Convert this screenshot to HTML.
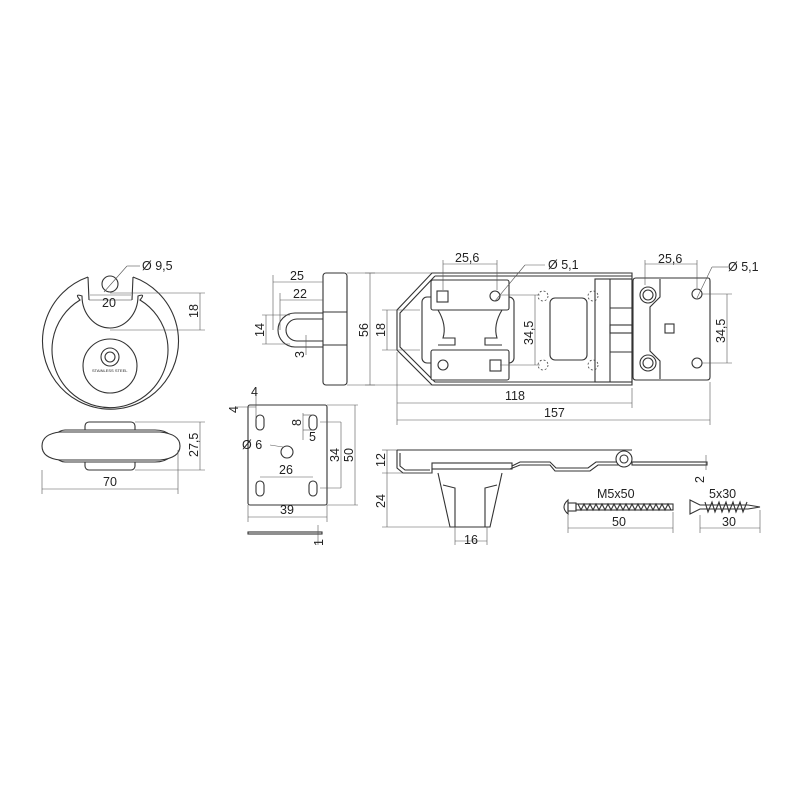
<!DOCTYPE html>
<html><head><meta charset="utf-8"><style>
html,body{margin:0;padding:0;background:#fff;}
svg{display:block}
text{font-family:"Liberation Sans",sans-serif;font-size:12.5px;fill:#222}
.o{fill:none;stroke:#333;stroke-width:1.1}
.w{fill:#fff;stroke:#333;stroke-width:1.1}
.d{fill:none;stroke:#555;stroke-width:0.6}
.ds{fill:none;stroke:#444;stroke-width:0.8;stroke-dasharray:2 2}
</style></head><body>
<svg width="800" height="800" viewBox="0 0 800 800" xmlns="http://www.w3.org/2000/svg">
<!-- Padlock front -->
<path class="o" d="M88,277 L89,300 M133,277 L132,300"/>
<path class="o" d="M88,277 A68,68 0 1 0 133,277"/>
<path class="o" d="M80,300 A58,58 0 1 0 140,300 Q146,293 138,296 A28,32 0 0 1 82,296 Q74,293 80,300 Z"/>
<line class="o" x1="89" y1="300" x2="132" y2="300" style="stroke-width:0.5"/>
<circle class="o" cx="110" cy="366" r="27"/>
<circle class="o" cx="110" cy="357" r="9"/>
<circle class="o" cx="110" cy="357" r="5"/>
<text x="92" y="372" style="font-size:4px">STAINLESS STEEL</text>
<circle class="o" cx="110" cy="284" r="8"/>
<line class="d" x1="104" y1="292" x2="127" y2="266"/><line class="d" x1="127" y1="266" x2="140" y2="266"/>
<text x="142" y="270">Ø 9,5</text>
<line class="d" x1="90" y1="295" x2="131" y2="295"/>
<text x="102" y="307">20</text>
<line class="d" x1="110" y1="293" x2="205" y2="293"/><line class="d" x1="110" y1="330" x2="205" y2="330"/>
<line class="d" x1="200" y1="293" x2="200" y2="330"/>
<text transform="translate(198,318) rotate(-90)">18</text>
<!-- Padlock side -->
<rect class="o" x="85" y="422" width="50" height="48" rx="4"/>
<path class="w" d="M65,430 H155 Q165,430 170,435 L178,446 L170,457 Q165,462 155,462 H65 Q60,462 55,457 L43,446 L55,435 Q60,430 65,430Z"/>
<path class="w" d="M60,432 H160 Q180,434 180,446 Q180,458 160,460 H60 Q42,458 42,446 Q42,434 60,432Z"/>
<line class="d" x1="42" y1="470" x2="42" y2="494"/><line class="d" x1="178" y1="450" x2="178" y2="494"/>
<line class="d" x1="42" y1="489" x2="178" y2="489"/>
<text x="103" y="486">70</text>
<line class="d" x1="135" y1="422" x2="205" y2="422"/><line class="d" x1="135" y1="470" x2="205" y2="470"/>
<line class="d" x1="200" y1="422" x2="200" y2="470"/>
<text transform="translate(198,457) rotate(-90)">27,5</text>
<!-- Staple -->
<rect class="o" x="323" y="273" width="24" height="112" rx="3"/>
<line class="o" x1="323" y1="312" x2="347" y2="312"/><line class="o" x1="323" y1="345" x2="347" y2="345"/>
<path class="o" d="M323,313 H295 A17,17 0 0 0 295,347 H323"/>
<path class="o" d="M323,319 H297 A11,11 0 0 0 297,341 H323"/>
<line class="d" x1="273" y1="275" x2="273" y2="330"/><line class="d" x1="273" y1="282" x2="323" y2="282"/>
<text x="290" y="280">25</text>
<line class="d" x1="280" y1="293" x2="280" y2="330"/><line class="d" x1="280" y1="300" x2="323" y2="300"/>
<text x="293" y="298">22</text>
<line class="d" x1="266" y1="315" x2="266" y2="344"/><line class="d" x1="262" y1="315" x2="290" y2="315"/><line class="d" x1="262" y1="344" x2="290" y2="344"/>
<text transform="translate(264,337) rotate(-90)">14</text>
<line class="d" x1="306" y1="335" x2="306" y2="355"/>
<text transform="translate(304,358) rotate(-90)">3</text>
<line class="d" x1="347" y1="273" x2="375" y2="273"/><line class="d" x1="347" y1="385" x2="375" y2="385"/>
<!-- Plate -->
<rect class="o" x="248" y="405" width="79" height="100" rx="2"/>
<rect class="o" x="256" y="415" width="8" height="15" rx="4"/><rect class="o" x="309" y="415" width="8" height="15" rx="4"/>
<rect class="o" x="256" y="481" width="8" height="15" rx="4"/><rect class="o" x="309" y="481" width="8" height="15" rx="4"/>
<circle class="o" cx="287" cy="452" r="6"/>
<line class="d" x1="256" y1="388" x2="256" y2="420"/><text x="251" y="396">4</text>
<line class="d" x1="236" y1="407" x2="256" y2="407"/><text transform="translate(238,413) rotate(-90)">4</text>
<line class="d" x1="303" y1="413" x2="303" y2="440"/><line class="d" x1="303" y1="415" x2="313" y2="415"/><line class="d" x1="303" y1="430" x2="313" y2="430"/>
<text transform="translate(301,426) rotate(-90)">8</text>
<text x="309" y="441">5</text>
<line class="d" x1="270" y1="445" x2="283" y2="447"/>
<text x="242" y="449">Ø 6</text>
<line class="d" x1="260" y1="477" x2="313" y2="477"/><text x="279" y="474">26</text>
<line class="d" x1="320" y1="422" x2="341" y2="422"/><line class="d" x1="320" y1="488" x2="341" y2="488"/>
<line class="d" x1="341" y1="422" x2="341" y2="488"/>
<text transform="translate(339,462) rotate(-90)">34</text>
<line class="d" x1="327" y1="405" x2="358" y2="405"/><line class="d" x1="327" y1="505" x2="358" y2="505"/>
<line class="d" x1="355" y1="405" x2="355" y2="505"/>
<text transform="translate(353,462) rotate(-90)">50</text>
<line class="d" x1="248" y1="505" x2="248" y2="522"/><line class="d" x1="327" y1="505" x2="327" y2="522"/>
<line class="d" x1="248" y1="517" x2="327" y2="517"/><text x="280" y="514">39</text>
<rect class="o" x="248" y="532" width="74" height="2"/>
<line class="d" x1="318" y1="525" x2="318" y2="545"/><text transform="translate(323,546) rotate(-90)">1</text>
<!-- Hasp top -->
<line class="d" x1="370" y1="273" x2="370" y2="385"/><line class="d" x1="365" y1="273" x2="432" y2="273"/><line class="d" x1="365" y1="385" x2="432" y2="385"/>
<text transform="translate(368,337) rotate(-90)">56</text>
<path class="o" d="M432,273 H632 V385 H432 L397,350 V310 Z"/>
<path class="o" d="M435,276 H632 M632,382 H435 L400,347 V313 L435,276"/>
<rect class="o" x="422" y="297" width="92" height="66" rx="5"/>
<rect class="w" x="431" y="280" width="78" height="30" rx="2"/>
<rect class="w" x="431" y="350" width="78" height="30" rx="2"/>
<path class="o" d="M438,310 Q447,325 443,338 H455 V345 H438 M502,310 Q493,325 497,338 H485 V345 H502"/>
<rect class="o" x="437" y="291" width="11" height="11"/>
<circle class="o" cx="495" cy="296" r="5"/>
<circle class="o" cx="443" cy="365" r="5"/>
<rect class="o" x="490" y="360" width="11" height="11"/>
<circle class="ds" cx="543" cy="296" r="5"/><circle class="ds" cx="543" cy="365" r="5"/>
<circle class="ds" cx="593" cy="296" r="5"/><circle class="ds" cx="593" cy="365" r="5"/>
<rect class="o" x="550" y="298" width="37" height="62" rx="5"/>
<rect class="o" x="595" y="279" width="37" height="103"/>
<line class="o" x1="610" y1="279" x2="610" y2="382"/>
<line class="o" x1="610" y1="308" x2="632" y2="308"/><line class="o" x1="610" y1="352" x2="632" y2="352"/>
<rect class="o" x="610" y="325" width="22" height="8"/>
<line class="d" x1="443" y1="260" x2="443" y2="290"/><line class="d" x1="497" y1="260" x2="497" y2="290"/>
<line class="d" x1="443" y1="264" x2="497" y2="264"/><text x="455" y="262">25,6</text>
<line class="d" x1="495" y1="301" x2="525" y2="265"/><line class="d" x1="525" y1="265" x2="545" y2="265"/>
<text x="548" y="269">Ø 5,1</text>
<line class="d" x1="500" y1="295" x2="540" y2="295"/><line class="d" x1="500" y1="365" x2="540" y2="365"/>
<line class="d" x1="535" y1="295" x2="535" y2="365"/>
<text transform="translate(533,345) rotate(-90)">34,5</text>
<line class="d" x1="382" y1="310" x2="420" y2="310"/><line class="d" x1="382" y1="350" x2="420" y2="350"/>
<line class="d" x1="387" y1="310" x2="387" y2="350"/>
<text transform="translate(385,337) rotate(-90)">18</text>
<!-- right plate -->
<path class="w" d="M636,278 H708 Q710,278 710,281 V377 Q710,380 707,380 H636 Q633,380 633,377 V281 Q633,278 636,278Z"/>
<path class="o" d="M660,279 V297 L650,307 V351 L660,361 V379"/>
<circle class="o" cx="648" cy="295" r="8"/><circle class="o" cx="648" cy="295" r="5"/>
<circle class="o" cx="648" cy="363" r="8"/><circle class="o" cx="648" cy="363" r="5"/>
<rect class="o" x="665" y="324" width="9" height="9"/>
<circle class="o" cx="697" cy="294" r="5"/><circle class="o" cx="697" cy="363" r="5"/>
<line class="d" x1="645" y1="260" x2="645" y2="285"/><line class="d" x1="697" y1="260" x2="697" y2="288"/>
<line class="d" x1="645" y1="264" x2="697" y2="264"/><text x="658" y="263">25,6</text>
<line class="d" x1="697" y1="298" x2="712" y2="267"/><line class="d" x1="712" y1="267" x2="728" y2="267"/>
<text x="728" y="271">Ø 5,1</text>
<line class="d" x1="702" y1="294" x2="732" y2="294"/><line class="d" x1="702" y1="363" x2="732" y2="363"/>
<line class="d" x1="727" y1="294" x2="727" y2="363"/>
<text transform="translate(725,343) rotate(-90)">34,5</text>
<line class="d" x1="397" y1="352" x2="397" y2="425"/><line class="d" x1="632" y1="388" x2="632" y2="408"/><line class="d" x1="710" y1="382" x2="710" y2="425"/>
<line class="d" x1="397" y1="403" x2="632" y2="403"/><text x="505" y="400">118</text>
<line class="d" x1="397" y1="420" x2="710" y2="420"/><text x="544" y="417">157</text>
<!-- Hasp side -->
<path class="o" d="M397,450 H632 M397,450 V468 L403,473 H432 V469 H510 L520,465 H550 L555,471 H590 L598,465 H620 L628,462 H705"/>
<path class="o" d="M400,453 V466 L405,470 H430 M512,466 L520,462 H550 L556,468 H588 L596,462 H625"/>
<rect class="o" x="432" y="463" width="80" height="6"/>
<circle class="w" cx="624" cy="459" r="8"/><circle class="o" cx="624" cy="459" r="4"/>
<rect class="o" x="632" y="462" width="75" height="3"/>
<path class="o" d="M438,473 L450,527 H490 L502,473"/>
<path class="o" d="M443,485 L455,488 V527 M497,485 L485,488 V527"/>
<line class="d" x1="382" y1="450" x2="397" y2="450"/><line class="d" x1="382" y1="473" x2="432" y2="473"/><line class="d" x1="382" y1="527" x2="450" y2="527"/>
<line class="d" x1="387" y1="450" x2="387" y2="527"/>
<text transform="translate(385,467) rotate(-90)">12</text>
<text transform="translate(385,508) rotate(-90)">24</text>
<line class="d" x1="455" y1="527" x2="455" y2="545"/><line class="d" x1="487" y1="527" x2="487" y2="545"/>
<line class="d" x1="455" y1="541" x2="487" y2="541"/><text x="464" y="544">16</text>
<line class="d" x1="706" y1="455" x2="706" y2="470"/><text transform="translate(704,483) rotate(-90)">2</text>
<!-- bolt -->
<path class="o" d="M568,500 Q560,507 568,514 Z"/>
<rect class="o" x="568" y="503" width="8" height="8"/>
<rect class="o" x="576" y="504" width="97" height="6"/>
<path class="o" d="M578,504 l3,6 l3,-6 l3,6 l3,-6 l3,6 l3,-6 l3,6 l3,-6 l3,6 l3,-6 l3,6 l3,-6 l3,6 l3,-6 l3,6 l3,-6 l3,6 l3,-6 l3,6 l3,-6 l3,6 l3,-6 l3,6 l3,-6 l3,6 l3,-6 l3,6 l3,-6 l3,6 l3,-6 l3,6"/>
<text x="597" y="498">M5x50</text>
<line class="d" x1="568" y1="515" x2="568" y2="533"/><line class="d" x1="673" y1="512" x2="673" y2="533"/>
<line class="d" x1="568" y1="528" x2="673" y2="528"/><text x="612" y="526">50</text>
<!-- screw -->
<path class="o" d="M690,500 L700,505 H748 L760,507 L748,509 H700 L690,514 Z"/>
<path class="o" d="M705,502 l3,10 l4,-10 l3,10 l4,-10 l3,10 l4,-10 l3,10 l4,-10 l3,10 l4,-10 l3,10 l4,-10"/>
<text x="709" y="498">5x30</text>
<line class="d" x1="700" y1="515" x2="700" y2="533"/><line class="d" x1="760" y1="510" x2="760" y2="533"/>
<line class="d" x1="700" y1="528" x2="760" y2="528"/><text x="722" y="526">30</text>
</svg>
</body></html>
